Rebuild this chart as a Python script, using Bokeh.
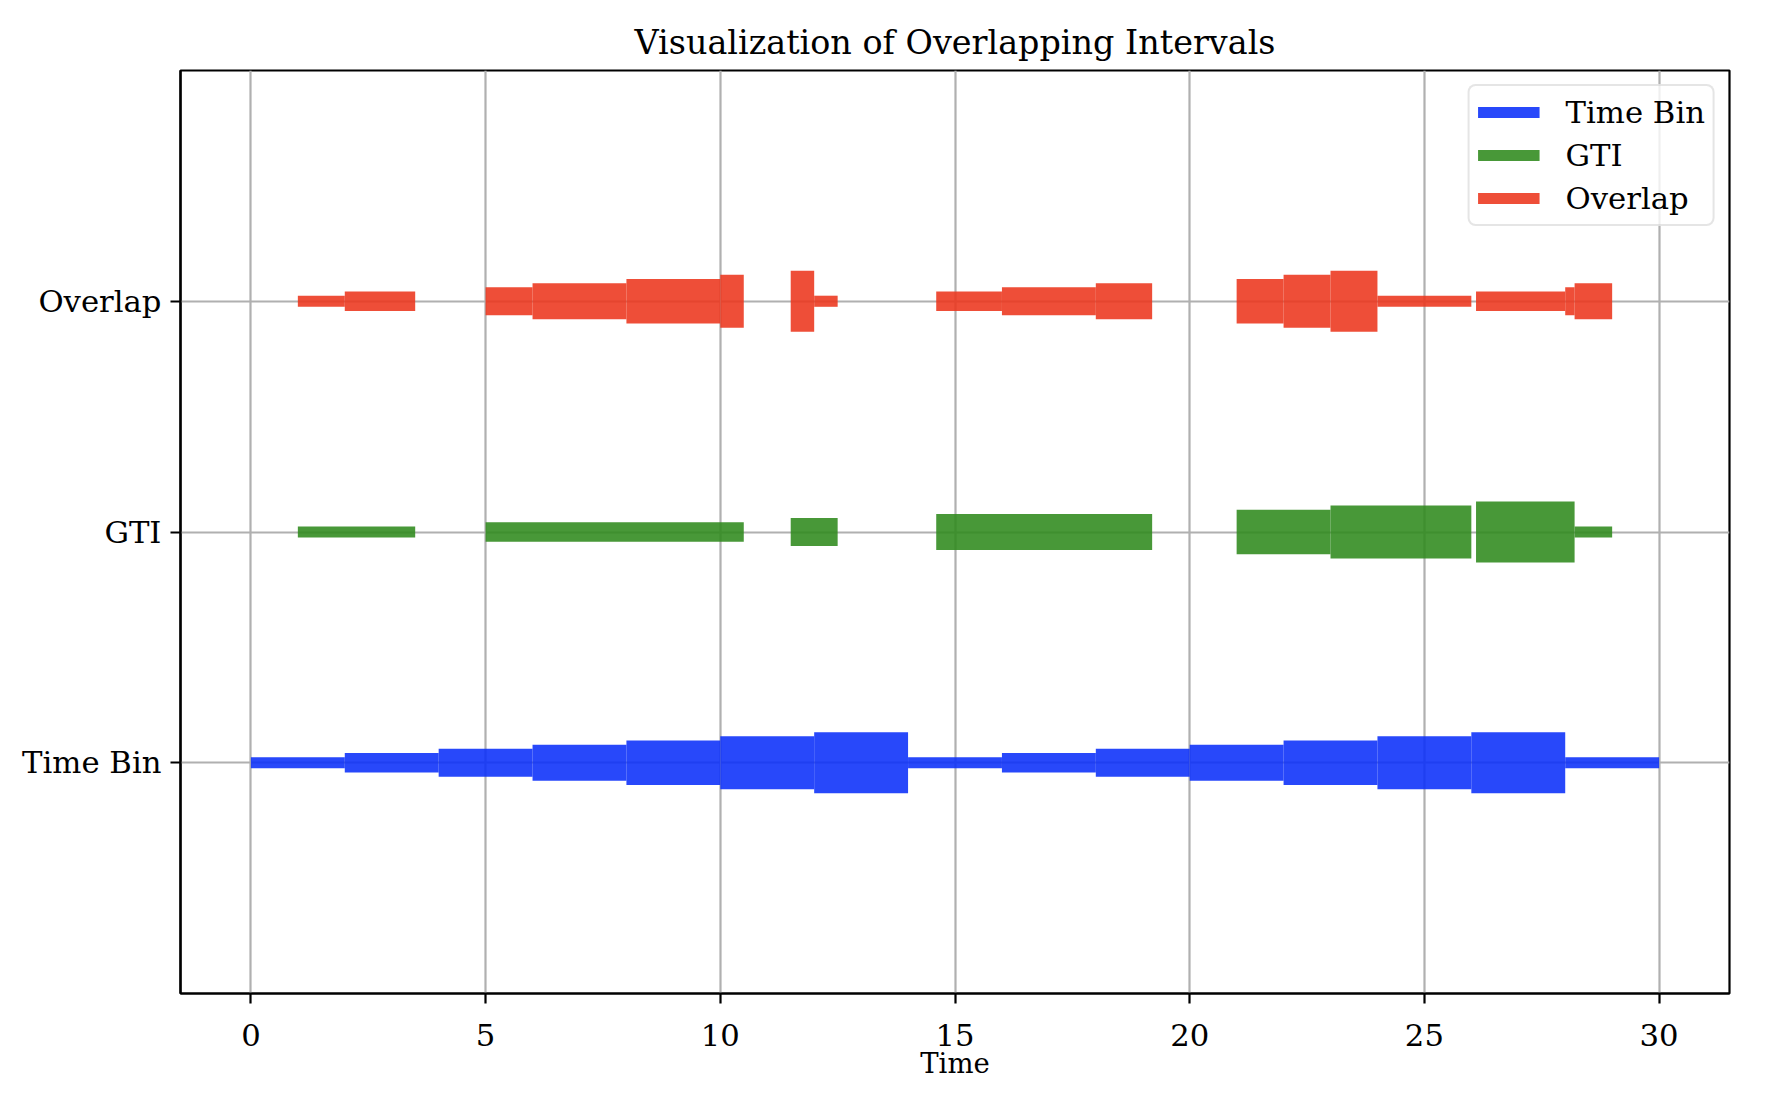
import numpy as np
from bokeh.plotting import figure
from bokeh.models import ColumnDataSource, FixedTicker, Legend, LegendItem
from bokeh.embed import file_html
from bokeh.resources import INLINE

# ---------------- data ----------------
ROW_NAMES = ["Time Bin", "GTI", "Overlap"]
ROW_POS = [0, 1, 2]

bin_starts = [0, 2, 4, 6, 8, 10, 12, 14, 16, 18, 20, 22, 24, 26, 28]
bin_ends = [2, 4, 6, 8, 10, 12, 14, 16, 18, 20, 22, 24, 26, 28, 30]

gti_starts = [1.0, 5.0, 11.5, 14.6, 21.0, 23.0, 26.1, 28.2]
gti_ends = [3.5, 10.5, 12.5, 19.2, 23.0, 26.0, 28.2, 29.0]

x_ticks = [0, 5, 10, 15, 20, 25, 30]

# overlaps = intersection of every time bin with every GTI
ov_starts, ov_ends = [], []
for b0, b1 in zip(bin_starts, bin_ends):
    for g0, g1 in zip(gti_starts, gti_ends):
        s, e = max(b0, g0), min(b1, g1)
        if s < e:
            ov_starts.append(s)
            ov_ends.append(e)

# ---------------- style ----------------
LEVELS = [11.1, 19.4, 27.8, 36.1, 44.4, 52.8, 61.1]   # line width cycle (px)
COLORS = {"Time Bin": "#0A2FF9", "GTI": "#2F8A1C", "Overlap": "#EC361C"}
ALPHA = 0.88
FONT = "DejaVu Serif"

p = figure(width=1764, height=1082, x_range=(-1.5, 31.5), y_range=(-1, 3),
           output_backend="svg", toolbar_location=None,
           min_border_left=180, min_border_right=35,
           min_border_top=70, min_border_bottom=89)

p.title.text = "Visualization of Overlapping Intervals"
p.title.align = "center"
p.title.text_font = FONT
p.title.text_font_size = "33.4px"
p.title.text_font_style = "normal"
p.title.text_color = "black"
p.title.standoff = 17

renderers = {}
def draw(starts, ends, ypos, name):
    n = len(starts)
    src = ColumnDataSource(dict(
        x0=starts, x1=ends, y=[ypos] * n,
        lw=[LEVELS[i % len(LEVELS)] for i in range(n)]))
    renderers[name] = p.segment(x0="x0", y0="y", x1="x1", y1="y", source=src,
                                line_width="lw", line_color=COLORS[name],
                                line_alpha=ALPHA, line_cap="butt")

draw(bin_starts, bin_ends, ROW_POS[0], "Time Bin")
draw(gti_starts, gti_ends, ROW_POS[1], "GTI")
draw(ov_starts, ov_ends, ROW_POS[2], "Overlap")

# axes
p.xaxis.ticker = FixedTicker(ticks=x_ticks)
p.yaxis.ticker = FixedTicker(ticks=ROW_POS)
p.yaxis.major_label_overrides = {pos: name for pos, name in zip(ROW_POS, ROW_NAMES)}
p.xaxis.axis_label = "Time"
for ax in (p.xaxis, p.yaxis):
    ax.axis_line_color = "black"
    ax.axis_line_width = 2.2
    ax.major_tick_line_color = "black"
    ax.major_tick_line_width = 2.2
    ax.major_tick_in = 0
    ax.major_tick_out = 10
    ax.minor_tick_line_color = None
    ax.major_label_text_font = FONT
    ax.major_label_text_font_size = "30.7px"
    ax.major_label_text_color = "black"
    ax.axis_label_text_font = FONT
    ax.axis_label_text_font_size = "27.5px"
    ax.axis_label_text_font_style = "normal"
    ax.axis_label_text_color = "black"
p.yaxis.major_label_standoff = 9
p.xaxis.major_label_standoff = 20
p.xaxis.axis_label_standoff = -2

p.grid.grid_line_color = "#b0b0b0"
p.grid.grid_line_width = 2.2
p.outline_line_color = "black"
p.outline_line_width = 2.2
p.outline_line_alpha = 1.0

# legend (index 0 -> thinnest line width of each series)
items = [LegendItem(label=name, renderers=[renderers[name]], index=0)
         for name in ROW_NAMES]
legend = Legend(items=items, location="top_right", margin=14,
                padding=8, spacing=7, glyph_width=62, glyph_height=36,
                label_standoff=26, label_text_font=FONT,
                label_text_font_size="30.7px", label_text_color="black",
                border_line_color="#cccccc", border_line_width=2.2,
                background_fill_alpha=0.8)
if "border_radius" in Legend.properties():
    legend.border_radius = 8
p.add_layout(legend)

open("out.html", "w").write(file_html(p, INLINE))
